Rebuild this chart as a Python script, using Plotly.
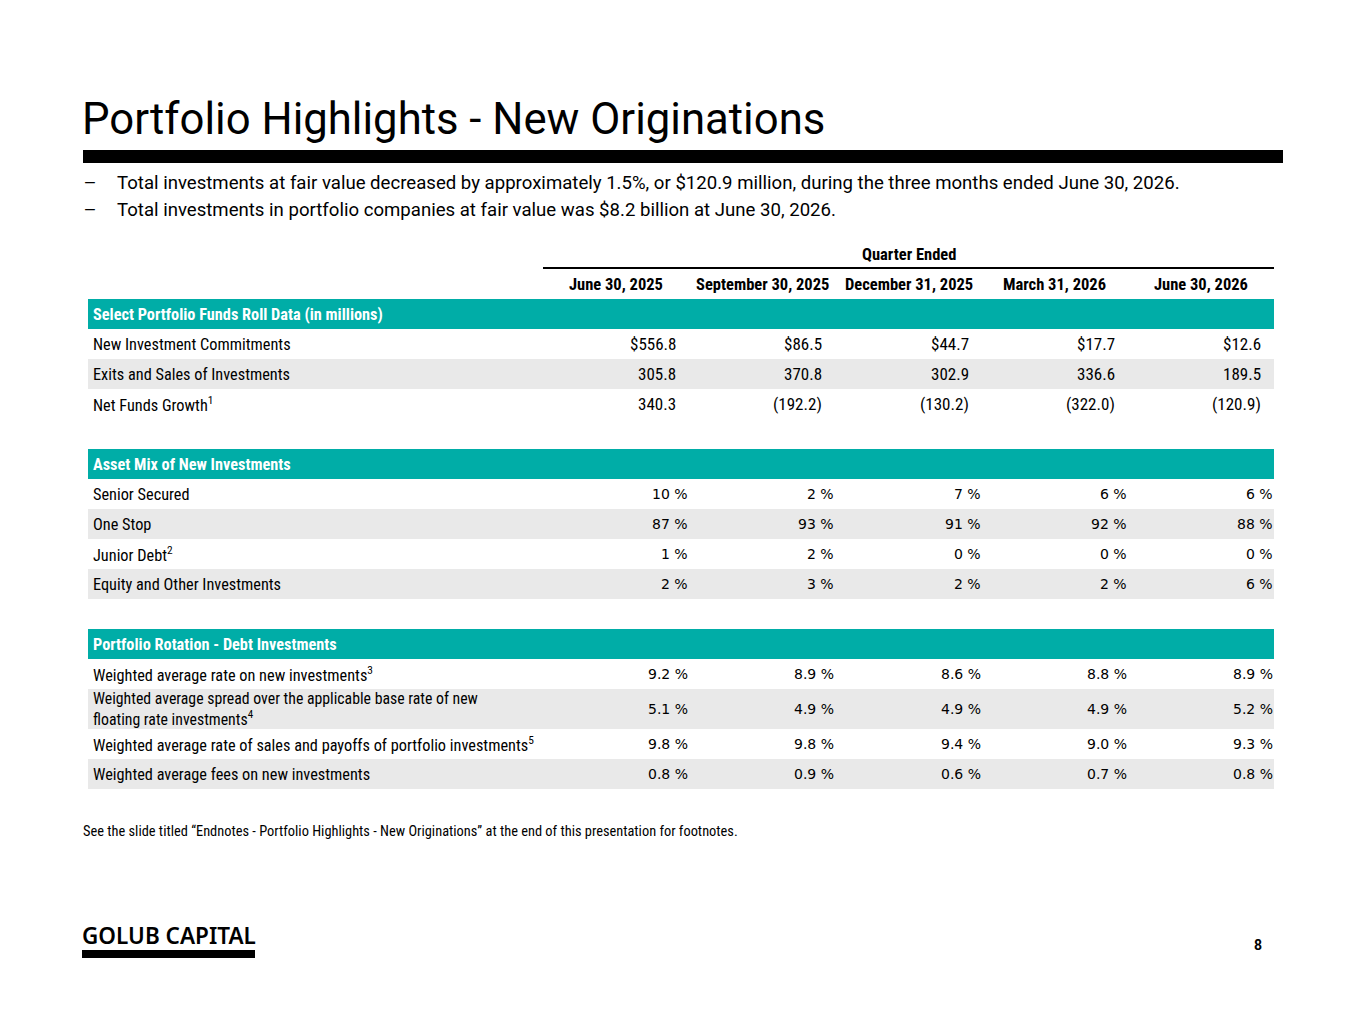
import plotly.graph_objects as go

# ---- data ----
quarters = ["June 30, 2025", "September 30, 2025", "December 31, 2025",
            "March 31, 2026", "June 30, 2026"]

funds_title = "Select Portfolio Funds Roll Data (in millions)"
funds_labels = ["New Investment Commitments", "Exits and Sales of Investments",
                "Net Funds Growth<sup>1</sup>"]
new_commitments = [556.8, 86.5, 44.7, 17.7, 12.6]
exits_sales = [305.8, 370.8, 302.9, 336.6, 189.5]
net_growth = [340.3, -192.2, -130.2, -322.0, -120.9]

mix_title = "Asset Mix of New Investments"
mix_labels = ["Senior Secured", "One Stop", "Junior Debt<sup>2</sup>",
              "Equity and Other Investments"]
senior_secured = [10, 2, 7, 6, 6]
one_stop = [87, 93, 91, 92, 88]
junior_debt = [1, 2, 0, 0, 0]
equity_other = [2, 3, 2, 2, 6]

rot_title = "Portfolio Rotation - Debt Investments"
rot_labels = ["Weighted average rate on new investments<sup>3</sup>",
              "Weighted average spread over the applicable base rate of new<br>floating rate investments<sup>4</sup>",
              "Weighted average rate of sales and payoffs of portfolio investments<sup>5</sup>",
              "Weighted average fees on new investments"]
rate_new = [9.2, 8.9, 8.6, 8.8, 8.9]
spread_new = [5.1, 4.9, 4.9, 4.9, 5.2]
rate_sales = [9.8, 9.8, 9.4, 9.0, 9.3]
fees_new = [0.8, 0.9, 0.6, 0.7, 0.8]

bullets = [
    "Total investments at fair value decreased by approximately 1.5%, or $120.9 million, during the three months ended June 30, 2026.",
    "Total investments in portfolio companies at fair value was $8.2 billion at June 30, 2026.",
]

# ---- styles ----
W, H = 1365, 1024
OFF = 8  # page body margin
TEAL = "#00ada7"
GRAY = "#e9e9e9"
NARROW = "Roboto Condensed, Liberation Sans Narrow, sans-serif"
PCTFONT = "DejaVu Sans, Verdana, sans-serif"
MAIN = "Roboto, Arial, sans-serif"

LEFT, RIGHT = 88, 1274
COL0 = 543
COLW = (RIGHT - COL0) / 5
ROWH = 30


def money(v, dollar=False):
    s = f"{abs(v):,.1f}"
    if dollar:
        s = "$" + s
    return f"({s})" if v < 0 else s


fig = go.Figure()
shapes = []
annos = []


def text(x, y, t, size=16.5, font=NARROW, color="black", xanchor="left", align="left", bold=False):
    if bold:
        t = f"<b>{t}</b>"
    annos.append(dict(x=x, y=y, xref="x", yref="y", text=t, showarrow=False,
                      xanchor=xanchor, yanchor="middle", align=align,
                      font=dict(size=size, family=font, color=color)))


def rect(x0, y0, x1, y1, color):
    shapes.append(dict(type="rect", xref="x", yref="y", x0=x0, y0=y0, x1=x1, y1=y1,
                       fillcolor=color, line=dict(width=0), layer="below"))


# title, bar and bullets
text(80, 119, "Portfolio Highlights - New Originations", size=43.7, font=MAIN)
rect(83, 150, 1283, 163, "black")
for i, b in enumerate(bullets):
    y = 183 + i * 27
    text(82, y, "\u2014", size=15, font=MAIN)
    text(115, y, b, size=18.6, font=MAIN)

# column header
text((COL0 + RIGHT) / 2, 254, "Quarter Ended", size=16.5, xanchor="center", bold=True)
shapes.append(dict(type="line", xref="x", yref="y", x0=COL0, x1=RIGHT, y0=268, y1=268,
                   line=dict(color="black", width=2)))
for j, q in enumerate(quarters):
    text(COL0 + COLW * (j + 0.5), 284, q, size=16.5, xanchor="center", bold=True)

# sections
sections = [
    (funds_title, funds_labels,
     [[money(v, True) for v in new_commitments],
      [money(v) for v in exits_sales],
      [money(v) for v in net_growth]], "num"),
    (mix_title, mix_labels,
     [[f"{v} %" for v in vals] for vals in (senior_secured, one_stop, junior_debt, equity_other)], "pct"),
    (rot_title, rot_labels,
     [[f"{v:.1f} %" for v in vals] for vals in (rate_new, spread_new, rate_sales, fees_new)], "pct"),
]

y = 299
for title, labels, rows, kind in sections:
    rect(LEFT, y, RIGHT, y + ROWH, TEAL)
    text(LEFT + 3, y + ROWH / 2, title, size=16.3, color="white", bold=True)
    y += ROWH
    for k, (lab, vals) in enumerate(zip(labels, rows)):
        nlines = lab.count("<br>") + 1
        h = ROWH + 10 * (nlines - 1)
        if k % 2 == 1:
            rect(LEFT, y, RIGHT, y + h, GRAY)
        text(LEFT + 3, y + h / 2, lab, size=16.3 if nlines == 1 else 15.8)
        for j, v in enumerate(vals):
            xr = COL0 + COLW * (j + 1)
            if kind == "num":
                text(xr - 11, y + h / 2, v, size=17, xanchor="right")
            else:
                text(xr + 1, y + h / 2, v, size=14, font=PCTFONT, xanchor="right")
        y += h
    y += ROWH

# footnote, logo and page number
text(81, 831, "See the slide titled \u201cEndnotes - Portfolio Highlights - New Originations\u201d "
     "at the end of this presentation for footnotes.", size=14.4)
annos.append(dict(x=80, y=935, xref="x", yref="y", text="GOLUB CAPITAL", showarrow=False,
                  xanchor="left", yanchor="middle",
                  font=dict(size=22.5, family="Noto Sans, sans-serif", color="black", weight=600)))
rect(82, 950, 255, 958, "black")
text(1264, 945, "8", size=14, font=MAIN, xanchor="right", bold=True)

fig.update_layout(
    width=W, height=H,
    margin=dict(l=0, r=0, t=0, b=0),
    paper_bgcolor="white", plot_bgcolor="white",
    xaxis=dict(range=[OFF, W + OFF], visible=False, fixedrange=True),
    yaxis=dict(range=[H + OFF, OFF], visible=False, fixedrange=True),
    shapes=shapes, annotations=annos, showlegend=False,
)

fig.write_html("out.html")
